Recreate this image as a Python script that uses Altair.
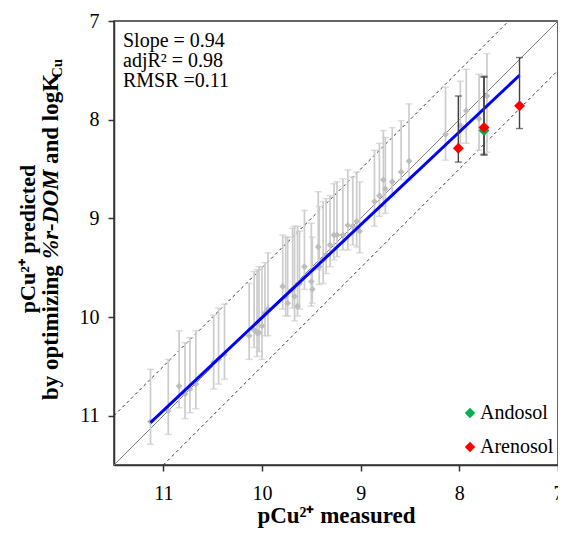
import altair as alt
import pandas as pd

# ---------------- data ----------------
# grey points: measured pCu2+, predicted pCu2+, upper / lower whisker ends
meas = [11.13, 10.95, 10.84, 10.78, 10.73, 10.67, 10.49, 10.44, 10.38, 10.13,
        10.08, 10.05, 10.03, 10.00, 9.97, 9.94, 9.79, 9.76, 9.74, 9.69,
        9.67, 9.64, 9.62, 9.57, 9.50, 9.49, 9.43, 9.42, 9.38, 9.35,
        9.31, 9.27, 9.24, 9.18, 9.13, 9.08, 9.04, 9.01, 8.86, 8.81,
        8.77, 8.75, 8.68, 8.59, 8.51, 8.14, 7.99, 7.93, 7.80, 7.72]
pred = [11.06, 10.95, 10.70, 10.78, 10.73, 10.68, 10.46, 10.43, 10.38, 10.19,
        10.13, 10.16, 10.16, 10.09, 9.96, 9.92, 9.69, 9.79, 9.86, 9.72,
        9.79, 9.89, 9.66, 9.49, 9.64, 9.72, 9.29, 9.49, 9.42, 9.37,
        9.27, 9.17, 9.17, 9.17, 9.07, 9.08, 9.03, 9.13, 8.83, 8.77,
        8.61, 8.70, 8.63, 8.53, 8.42, 8.15, 8.06, 7.91, 7.99, 7.76]
pred_top = [10.53, 10.43, 10.14, 10.26, 10.21, 10.14, 9.98, 9.91, 9.87, 9.66,
            9.54, 9.52, 9.49, 9.49, 9.45, 9.35, 9.17, 9.19, 9.19, 9.10,
            9.08, 9.08, 9.13, 8.92, 9.05, 9.19, 8.73, 8.88, 8.83, 8.80,
            8.77, 8.65, 8.63, 8.60, 8.51, 8.58, 8.53, 8.63, 8.31, 8.24,
            8.11, 8.18, 8.08, 8.01, 7.84, 7.67, 7.61, 7.49, 7.54, 7.33]
pred_bot = [11.29, 11.19, 10.92, 11.03, 10.97, 10.93, 10.73, 10.68, 10.63, 10.43,
            10.31, 10.40, 10.35, 10.43, 10.19, 10.19, 9.92, 9.99, 9.99, 9.91,
            10.04, 9.99, 9.92, 9.72, 9.89, 9.86, 9.52, 9.67, 9.66, 9.56,
            9.49, 9.42, 9.39, 9.32, 9.32, 9.27, 9.29, 9.35, 9.08, 8.98,
            8.88, 8.95, 8.78, 8.61, 8.61, 8.41, 8.24, 8.24, 8.31, 8.33]

# coloured soils
soil_names = ["Andosol", "Arenosol", "Arenosol", "Arenosol"]
soil_meas = [7.75, 8.01, 7.75, 7.39]
soil_pred = [8.11, 8.29, 8.08, 7.86]
soil_top = [7.57, 7.76, 7.56, 7.37]
soil_bot = [8.36, 8.43, 8.35, 8.09]

# regression line end points
fit_meas = [11.13, 7.39]
fit_pred = [11.07, 7.55]

# 1:1 line and +/-0.5 lines (end points)
one_x = [11.5, 7.0]
one_y = [11.5, 7.0]
up_x = [11.5, 7.5]
up_y = [11.0, 7.0]
lo_x = [11.0, 7.0]
lo_y = [11.5, 7.5]

ticks = [7, 8, 9, 10, 11]
legend_order = ["Andosol", "Arenosol"]
legend_colors = ["#00b050", "#ff0000"]
annot_lines = ["Slope = 0.94", "adjR\u00b2 = 0.98", "RMSR =0.11"]
x_title = "pCu\u00b2\u207a measured"
y_title_1 = "pCu\u00b2\u207a  predicted"
y_title_parts = ["by optimizing", "%r-DOM", "and logK", "Cu"]

# ---------------- frames ----------------
grey = pd.DataFrame({"x": meas, "y": pred, "top": pred_top, "bot": pred_bot})
soils = pd.DataFrame({"x": soil_meas, "y": soil_pred, "top": soil_top,
                      "bot": soil_bot, "soil": soil_names})
fit = pd.DataFrame({"x": fit_meas, "y": fit_pred})
one = pd.DataFrame({"x": one_x, "y": one_y})
up = pd.DataFrame({"x": up_x, "y": up_y})
lo = pd.DataFrame({"x": lo_x, "y": lo_y})
annot = pd.DataFrame({"t": ["\n".join(annot_lines)]})

FONT = "Liberation Serif"

xs = alt.Scale(domain=[7, 11.5], reverse=True, nice=False, zero=False)
ys = alt.Scale(domain=[7, 11.5], reverse=True, nice=False, zero=False)

xax = alt.Axis(values=ticks, format="d", grid=False, title=x_title,
               labelFont=FONT, labelFontSize=20, labelColor="black",
               labelFlush=False, labelPadding=12, tickSize=6,
               titleFont=FONT, titleFontSize=23, titleFontWeight="bold",
               titleColor="black", titlePadding=1)
yax = alt.Axis(values=ticks, format="d", grid=False, title=None,
               labelFont=FONT, labelFontSize=20, labelColor="black",
               labelPadding=9, tickSize=6)

X = alt.X("x:Q", scale=xs, axis=xax)
Y = alt.Y("y:Q", scale=ys, axis=yax)
Xn = alt.X("x:Q", scale=xs)
Yn = alt.Y("y:Q", scale=ys)

one_line = alt.Chart(one).mark_line(color="#808080", strokeWidth=1).encode(x=X, y=Y)
up_line = alt.Chart(up).mark_line(color="#333333", strokeWidth=1,
                                  strokeDash=[3, 3]).encode(x=Xn, y=Yn)
lo_line = alt.Chart(lo).mark_line(color="#333333", strokeWidth=1,
                                  strokeDash=[3, 3]).encode(x=Xn, y=Yn)

g_bars = alt.Chart(grey).mark_rule(color="#cccccc", strokeWidth=1.7).encode(
    x=Xn, y=alt.Y("top:Q", scale=ys), y2="bot:Q")
g_cap1 = alt.Chart(grey).mark_tick(color="#cccccc", orient="horizontal",
                                   size=7, thickness=1.4).encode(
    x=Xn, y=alt.Y("top:Q", scale=ys))
g_cap2 = alt.Chart(grey).mark_tick(color="#cccccc", orient="horizontal",
                                   size=7, thickness=1.4).encode(
    x=Xn, y=alt.Y("bot:Q", scale=ys))
g_pts = alt.Chart(grey).mark_point(shape="diamond", filled=True, opacity=1,
                                   color="#bdbdbd", size=45).encode(x=Xn, y=Yn)

fit_line = alt.Chart(fit).mark_line(color="#0000ff", strokeWidth=3).encode(x=Xn, y=Yn)

s_bars = alt.Chart(soils).mark_rule(color="#404040", strokeWidth=1.4).encode(
    x=Xn, y=alt.Y("top:Q", scale=ys), y2="bot:Q")
s_cap1 = alt.Chart(soils).mark_tick(color="#404040", orient="horizontal",
                                    size=7, thickness=1.4).encode(
    x=Xn, y=alt.Y("top:Q", scale=ys))
s_cap2 = alt.Chart(soils).mark_tick(color="#404040", orient="horizontal",
                                    size=7, thickness=1.4).encode(
    x=Xn, y=alt.Y("bot:Q", scale=ys))
s_pts = alt.Chart(soils).mark_point(shape="diamond", filled=True, opacity=1,
                                    size=120).encode(
    x=Xn, y=Yn,
    color=alt.Color("soil:N",
                    scale=alt.Scale(domain=legend_order, range=legend_colors),
                    legend=alt.Legend(title=None, orient="none", legendX=346,
                                      legendY=382, symbolType="diamond",
                                      symbolSize=110, symbolStrokeWidth=0,
                                      labelFont=FONT, labelFontSize=20,
                                      labelColor="black", rowPadding=14,
                                      labelOffset=0, padding=0)))

txt = alt.Chart(annot).mark_text(align="left", baseline="alphabetic", font=FONT,
                                 fontSize=20, lineHeight=20, lineBreak="\n",
                                 color="black").encode(
    x=alt.value(9), y=alt.value(26), text="t:N")

def ylab(text, x, y, size=23, style="normal", align="left"):
    return alt.Chart(annot).mark_text(
        text=text, angle=270, align=align, baseline="alphabetic", font=FONT,
        fontSize=size, fontWeight="bold", fontStyle=style, color="black"
    ).encode(x=alt.value(x), y=alt.value(y))

yt1 = ylab(y_title_1, -79, 218, size=22, align="center")
yt2a = ylab(y_title_parts[0], -56, 379)
yt2b = ylab(y_title_parts[1], -56, 238, style="italic")
yt2c = ylab(y_title_parts[2], -56, 143)
yt2d = ylab(y_title_parts[3], -52, 57, size=15)

chart = alt.layer(
    one_line, up_line, lo_line, g_bars, g_cap1, g_cap2, g_pts, fit_line,
    s_bars, s_cap1, s_cap2, s_pts, txt, yt1, yt2a, yt2b, yt2c, yt2d
).properties(
    width=444, height=444,
    autosize=alt.AutoSizeParams(type="none"),
    padding={"left": 106, "top": 13, "right": 0, "bottom": 64},
).configure_view(stroke="#333333", strokeWidth=1.5).configure_axis(
    domainColor="#333333", domainWidth=1.5, tickColor="#333333", tickWidth=1.5
)

chart.save("out.html", embed_options={"renderer": "svg", "actions": False})
